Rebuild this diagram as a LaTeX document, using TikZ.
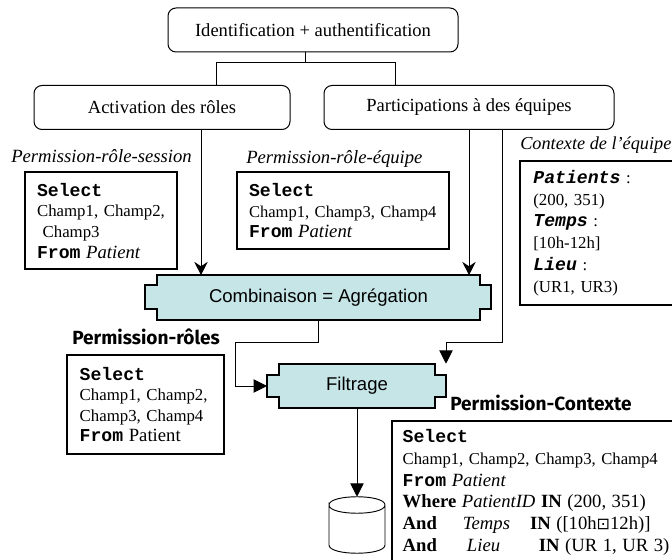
\documentclass[tikz,border=0pt]{standalone}
\usepackage{fontspec}
\setmainfont{Liberation Serif}
\setsansfont{Liberation Sans}
\setmonofont{Liberation Mono}
\newfontfamily\titlefont{Fira Sans}
\newfontfamily\symbfont{DejaVu Sans}
\usetikzlibrary{arrows.meta}
\definecolor{procblue}{HTML}{C5E5E7}
\newcommand{\kw}[1]{{\ttfamily\bfseries\fontsize{13.6}{15.4}\selectfont #1}}
\newcommand{\kwi}[1]{{\ttfamily\bfseries\itshape\fontsize{13.6}{15.4}\selectfont #1}}
\newcommand{\lrg}{\fontsize{14}{16.3}\selectfont}
\tikzset{
  roundbox/.style={draw,rounded corners=6pt,line width=0.75pt,font=\fontsize{13.9}{16}\selectfont,minimum height=33pt},
  permbox/.style={draw,line width=1.6pt,fill=white,align=left,anchor=north west,inner xsep=9pt,inner ysep=0pt,
                  font=\fontsize{12.6}{15.4}\selectfont},
  permlabel/.style={font=\fontsize{14}{15}\selectfont\itshape,anchor=base west,inner sep=0pt},
  titlelabel/.style={font=\fontsize{14.3}{15}\selectfont\titlefont\bfseries,anchor=base west,inner sep=0pt},
  procshape/.style={draw,fill=procblue,line width=0.9pt},
  proctext/.style={font=\fontsize{13.9}{16}\selectfont\sffamily,inner sep=0pt},
  flow/.style={line width=0.75pt,-{Stealth[length=10pt,width=10pt]}},
  flowb/.style={line width=0.75pt,-{Triangle[length=10pt,width=10pt]}},
  link/.style={line width=0.75pt}
}
\begin{document}
\begin{tikzpicture}[x=0.75pt,y=-0.75pt]
  \useasboundingbox (0,0) rectangle (672,560);
  % top boxes
  \node[roundbox,minimum width=217.5pt] (ident) at (313,30) {Identification + authentification};
  \node[roundbox,minimum width=192pt] (activ) at (162,107.5) {Activation des rôles};
  \node[roundbox,minimum width=217.5pt] (partic) at (469,107.5) {Participations à des équipes};
  \draw[link] (ident.south -| 305,0) -- (305,63);
  \draw[link] (activ.north -| 216,0) -- (216,63) -- (395,63) -- (partic.north -| 395,0);

  % the two process shapes
  \filldraw[procshape] (157,275) -- (480,275) -- (480,285) -- (491,285) -- (491,309) -- (480,309) -- (480,320)
      -- (157,320) -- (157,309) -- (145,309) -- (145,285) -- (157,285) -- cycle;
  \node[proctext,minimum width=242pt,minimum height=33pt] (combi) at (318.5,297.5) {Combinaison = Agrégation};
  \filldraw[procshape] (279,364) -- (435,364) -- (435,375) -- (446,375) -- (446,397) -- (435,397) -- (435,408)
      -- (279,408) -- (279,397) -- (267,397) -- (267,375) -- (279,375) -- cycle;
  \node[proctext,minimum width=117pt,minimum height=33pt] (filt) at (357,386) {Filtrage};
  \coordinate (filtin) at (267,386);

  % permission boxes
  \node[permlabel] (lsession) at (11,162) {Permission-rôle-session};
  \node[permbox,minimum width=114pt,minimum height=73pt,text width=96pt] (bsession) at (24,171) {\kw{Select}\\Champ1, Champ2,\\\ Champ3\\\kw{From} {\lrg\textit{Patient}}};
  \node[permlabel] (lequipe) at (246,164) {Permission-rôle-équipe};
  \node[permbox,minimum width=159pt,minimum height=58pt,text width=141pt,font=\fontsize{12.4}{15.4}\selectfont] (bequipe) at (236,171) {\kw{Select}\\Champ1, Champ3, Champ4\\\kw{From} {\lrg\textit{Patient}}};
  \node[permlabel,font=\fontsize{13.7}{15}\selectfont\itshape] (lcontexte) at (520,150) {Contexte de l’équipe};
  \node[permbox,minimum width=130pt,minimum height=108pt,text width=110pt,inner xsep=10pt,font=\fontsize{12.6}{16.3}\selectfont] (bcontexte) at (519,160) {\kwi{Patients} :\\(200, 351)\\\kwi{Temps} :\\{}[10h-12h]\\\kwi{Lieu} :\\(UR1, UR3)};
  \node[titlelabel] (lroles) at (72,344) {Permission-rôles};
  \node[permbox,minimum width=118pt,minimum height=74pt,text width=99pt,inner xsep=9.5pt] (broles) at (66,354) {\kw{Select}\\Champ1, Champ2,\\Champ3, Champ4\\\kw{From} {\lrg Patient}};
  \node[titlelabel] (lcontext) at (450,410) {Permission-Contexte};
  \node[permbox,minimum width=230pt,minimum height=107pt,text width=214pt,inner xsep=8pt,font=\fontsize{12.5}{16.3}\selectfont] (bcontext) at (391,420) {\kw{Select}\\Champ1, Champ2, Champ3, Champ4\\\kw{From} {\lrg\textit{Patient}}\\{\lrg\textbf{Where} \textit{PatientID} \textbf{IN} (200, 351)}\\{\lrg\textbf{And}\hspace{19.5pt}\textit{Temps}\hspace{15pt}\textbf{IN} ([10h{\symbfont\fontsize{12}{12}\selectfont ⊡}12h)]}\\{\lrg\textbf{And}\hspace{22.5pt}\textit{Lieu}\hspace{29pt}\textbf{IN} (UR 1, UR 3)}};

  % database
  \draw[line width=0.7pt] (329,505) .. controls (329,494) and (385,494) .. (385,505)
      .. controls (385,516) and (329,516) .. (329,505) -- (329,545)
      .. controls (329,556) and (385,556) .. (385,545) -- (385,505);
  \node[minimum width=42pt,minimum height=42pt,inner sep=0pt] (db) at (357,525) {};

  % connectors
  \draw[flow] (activ.south -| 201,0) -- (combi.north -| 201,0);
  \draw[flow] (partic.south -| 469,0) -- (combi.north -| 469,0);
  \draw[flowb] (partic.south -| 502,0) -- (502,342) -- (446,342) -- (filt.north -| 446,0);
  \draw[flowb] (combi.south -| 318,0) -- (318,342) -- (235,342) -- (235,386) -- (filtin);
  \draw[flowb] (filt.south) -- (db.north);
\end{tikzpicture}
\end{document}
